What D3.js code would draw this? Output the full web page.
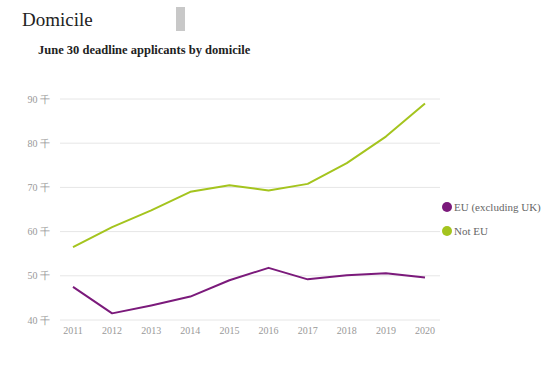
<!DOCTYPE html>
<html>
<head>
<meta charset="utf-8">
<script src="https://cdn.jsdelivr.net/npm/d3@7"></script>
<style>
	body { margin: 0; background: #fff; }
	svg text { font-family: "Liberation Serif", "DejaVu Serif", serif; }
</style>
</head>
<body>
<svg id="chart" width="552" height="371"></svg>
<script>
var years = [2011, 2012, 2013, 2014, 2015, 2016, 2017, 2018, 2019, 2020];
var euValues = [47.5, 41.5, 43.3, 45.3, 49.0, 51.8, 49.2, 50.1, 50.6, 49.6];
var notEuValues = [56.5, 61.0, 64.8, 69.0, 70.5, 69.3, 70.8, 75.5, 81.5, 89.0];
var yTicks = [40, 50, 60, 70, 80, 90];
var seriesNames = ["EU (excluding UK)", "Not EU"];
var seriesColors = ["#7b1a7b", "#a4c41e"];

var svg = d3.select("#chart");
var margin = {left: 60, right: 112, top: 99, bottom: 51};
var width = 552, height = 371;

// header
svg.append("text")
	.attr("x", 22).attr("y", 26)
	.attr("font-size", 19).attr("fill", "#222")
	.text("Domicile");
svg.append("rect")
	.attr("x", 176).attr("y", 7)
	.attr("width", 9).attr("height", 24)
	.attr("fill", "#c8c8c8");
svg.append("text")
	.attr("x", 38).attr("y", 54)
	.attr("font-size", 12.5).attr("font-weight", "bold").attr("fill", "#222")
	.text("June 30 deadline applicants by domicile");

var x = d3.scalePoint()
	.domain(years)
	.range([73, 425]);
var y = d3.scaleLinear()
	.domain([40, 90])
	.range([height - margin.bottom, margin.top]);

// grid + y labels
var gy = svg.append("g").attr("class", "y-axis");
gy.selectAll("line")
	.data(yTicks).enter()
	.append("line")
	.attr("x1", margin.left).attr("x2", width - margin.right)
	.attr("y1", function(d) { return y(d); })
	.attr("y2", function(d) { return y(d); })
	.attr("stroke", "#e6e6e6").attr("stroke-width", 1);
gy.selectAll("text")
	.data(yTicks).enter()
	.append("text")
	.attr("x", 50).attr("y", function(d) { return y(d); })
	.attr("dy", "0.35em").attr("text-anchor", "end")
	.attr("font-size", 10).attr("fill", "#999")
	.text(function(d) { return d + " 千"; });

// x labels
svg.append("g").attr("class", "x-axis")
	.selectAll("text")
	.data(years).enter()
	.append("text")
	.attr("x", function(d) { return x(d); })
	.attr("y", 334)
	.attr("text-anchor", "middle")
	.attr("font-size", 10).attr("fill", "#999")
	.text(function(d) { return d; });

// lines
var line = d3.line()
	.x(function(d, i) { return x(years[i]); })
	.y(function(d) { return y(d); });
[euValues, notEuValues].forEach(function(vals, k) {
	svg.append("path")
		.datum(vals)
		.attr("fill", "none")
		.attr("stroke", seriesColors[k])
		.attr("stroke-width", 2)
		.attr("stroke-linejoin", "round")
		.attr("d", line);
});

// legend
var lg = svg.append("g").attr("class", "legend");
seriesNames.forEach(function(name, i) {
	var ly = 207 + i * 24;
	lg.append("circle")
		.attr("cx", 447).attr("cy", ly).attr("r", 5)
		.attr("fill", seriesColors[i]);
	lg.append("text")
		.attr("x", 454).attr("y", ly)
		.attr("dy", "0.35em")
		.attr("font-size", 11).attr("fill", "#666")
		.text(name);
});
</script>
</body>
</html>
